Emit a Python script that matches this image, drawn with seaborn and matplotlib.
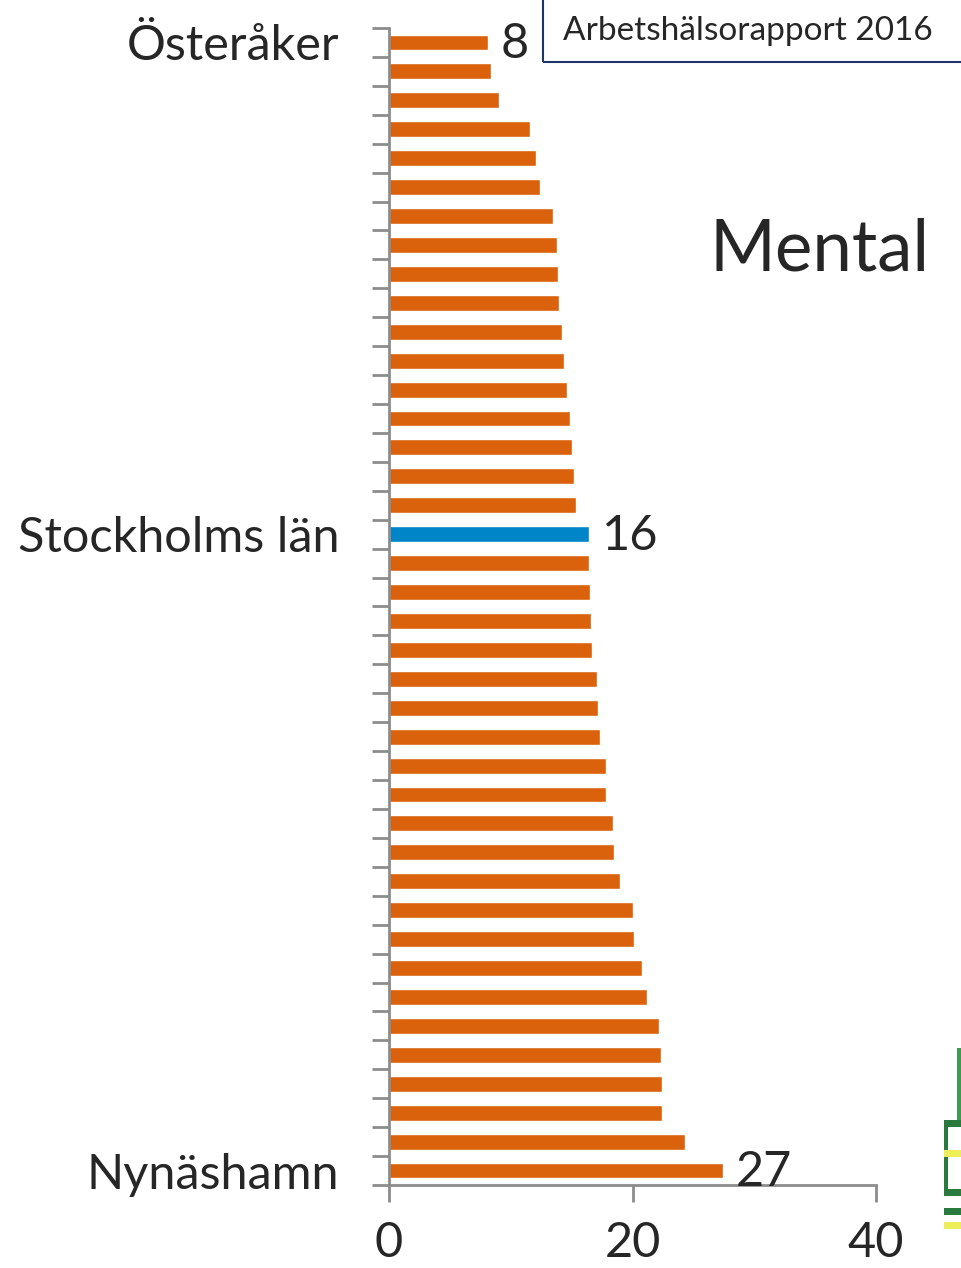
import matplotlib

matplotlib.use("Agg")
import matplotlib.pyplot as plt
import pandas as pd
import seaborn as sns
from matplotlib.patches import Rectangle


# Andel (%) med psykisk ohälsa per kommun, sorterat
VALUES = [
    8.1, 8.4, 9.0, 11.6, 12.1, 12.4, 13.5, 13.8, 13.9, 14.0,
    14.2, 14.4, 14.6, 14.9, 15.0, 15.2, 15.4, 16.4, 16.4, 16.5,
    16.6, 16.7, 17.1, 17.2, 17.3, 17.8, 17.8, 18.4, 18.5, 19.0,
    20.0, 20.1, 20.8, 21.2, 22.2, 22.3, 22.4, 22.4, 24.3, 27.4,
]
HIGHLIGHT_INDEX = 17
NAMED = {0: "Österåker", 17: "Stockholms län", 39: "Nynäshamn"}
VALUE_LABELS = {0: "8", 17: "16", 39: "27"}
X_TICKS = [0, 20, 40]

ORANGE = "#DA620C"
BLUE = "#0085C8"
GRAY = "#8C8C8C"


def main():
    sns.set_theme(style="white")
    plt.rcParams["font.family"] = ["Lato", "DejaVu Sans"]

    df = pd.DataFrame({
        "pos": list(range(len(VALUES))),
        "value": VALUES,
    })
    df["group"] = ["län" if i == HIGHLIGHT_INDEX else "kommun" for i in df["pos"]]

    fig = plt.figure(figsize=(9.61, 12.68), dpi=100)
    ax = fig.add_axes([389 / 961, 1 - 1185 / 1268, (876 - 389) / 961, (1185 - 28) / 1268])

    sns.barplot(
        data=df,
        x="value",
        y="pos",
        hue="group",
        palette={"kommun": ORANGE, "län": BLUE},
        saturation=1,
        orient="h",
        dodge=False,
        width=0.55,
        legend=False,
        ax=ax,
    )

    ax.set_xlim(0, 40)
    ax.set_ylim(len(VALUES) - 0.5, -0.5)
    ax.set_xlabel("")
    ax.set_ylabel("")

    for side in ["top", "right"]:
        ax.spines[side].set_visible(False)
    for side in ["left", "bottom"]:
        ax.spines[side].set_color(GRAY)
        ax.spines[side].set_linewidth(2)

    # category labels only for the three named rows
    ax.set_yticks(list(NAMED.keys()))
    ax.set_yticklabels(list(NAMED.values()), fontsize=35)
    ax.tick_params(axis="y", which="major", left=True, length=0, pad=36)
    ax.set_yticks([i - 0.5 for i in range(len(VALUES) + 1)], minor=True)
    ax.tick_params(axis="y", which="minor", left=True, length=12, width=2,
                   color=GRAY, direction="out")

    ax.set_xticks(X_TICKS)
    ax.set_xticklabels([str(t) for t in X_TICKS], fontsize=35)
    ax.tick_params(axis="x", bottom=True, length=12, width=2, color=GRAY,
                   direction="out", pad=14)

    for i, txt in VALUE_LABELS.items():
        ax.text(VALUES[i] + 1.1, i + 0.05, txt, fontsize=35, va="center", ha="left")

    fig.text(710 / 961, 1 - 250 / 1268, "Mental", fontsize=51, va="center", ha="left")

    # source box top right
    fig.patches.append(Rectangle((543 / 961, 1 - 62 / 1268), 0.5, 0.1,
                                 transform=fig.transFigure, fill=False,
                                 edgecolor="#1F3468", linewidth=1.5))
    fig.text(563 / 961, 1 - 31 / 1268, "Arbetshälsorapport 2016", fontsize=24,
             va="center", ha="left")

    # fragment of logo at bottom right edge
    for (x, y, w, h, c) in [
        (944, 1120, 17, 7, "#2A7A3E"),
        (944, 1120, 4, 76, "#2A7A3E"),
        (944, 1150, 17, 7, "#EDEE5A"),
        (944, 1189, 17, 7, "#2A7A3E"),
        (944, 1208, 17, 7, "#2A7A3E"),
        (944, 1222, 17, 7, "#EDEE5A"),
        (957, 1048, 4, 72, "#3E9A4E"),
    ]:
        fig.patches.append(Rectangle((x / 961, 1 - (y + h) / 1268), w / 961, h / 1268,
                                     transform=fig.transFigure, color=c, linewidth=0))

    fig.savefig("out.png", dpi=100)
    plt.close(fig)


if __name__ == "__main__":
    main()
